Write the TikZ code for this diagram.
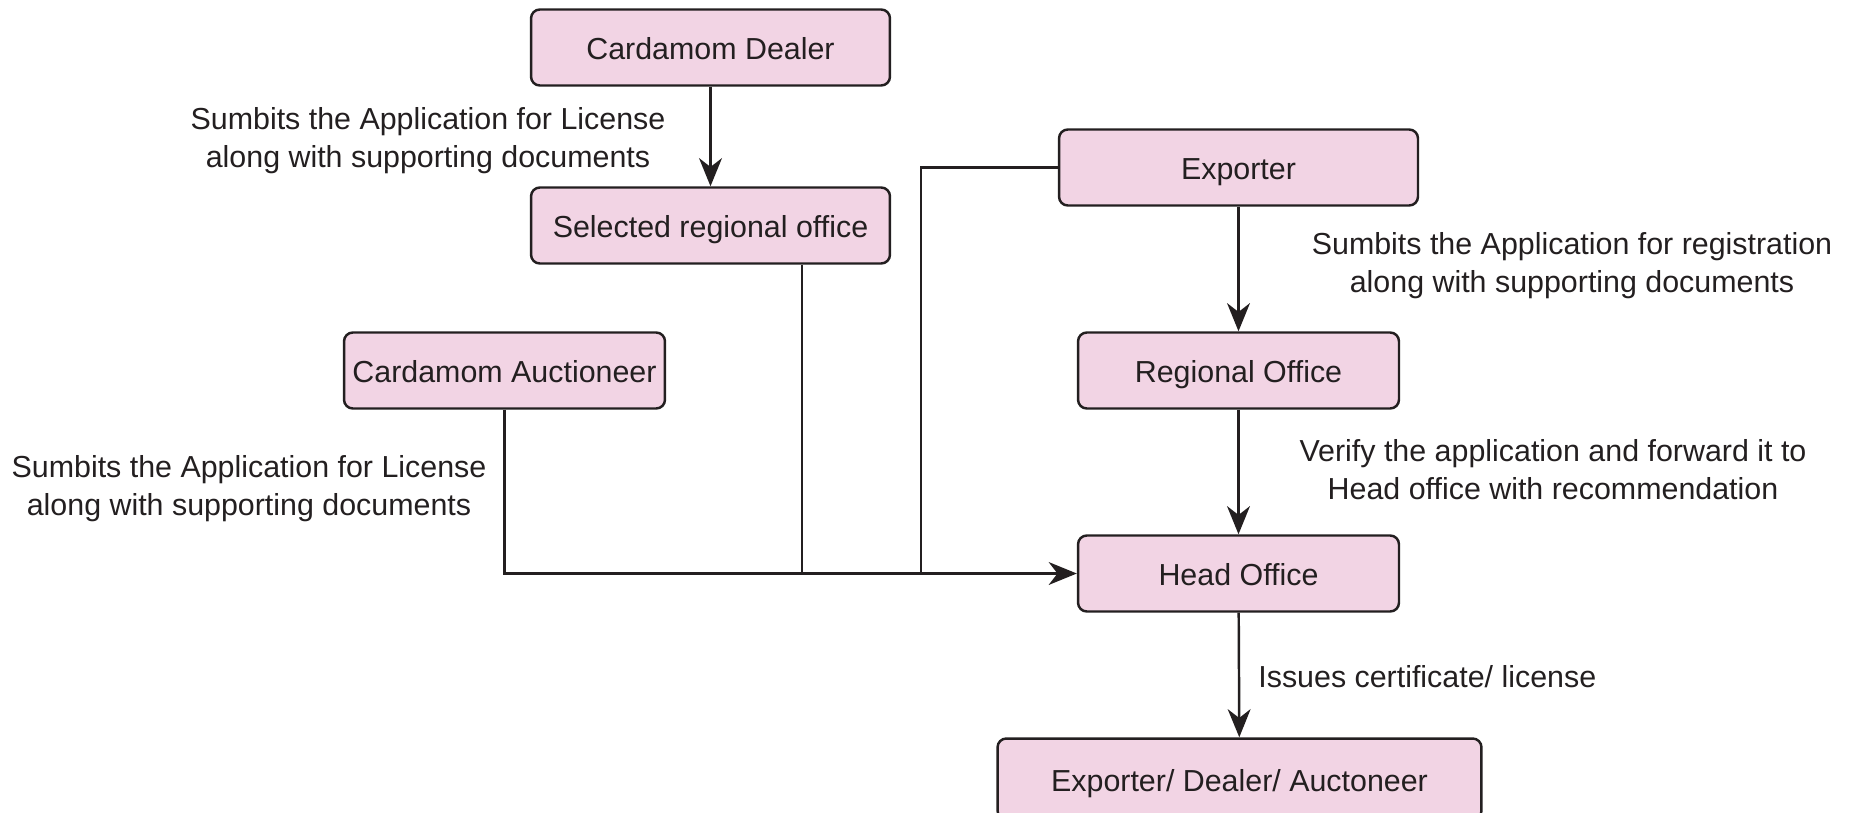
\documentclass[tikz,border=0pt]{standalone}
\usepackage{fontspec}
\setmainfont{Liberation Sans}
\usetikzlibrary{arrows.meta}
\definecolor{boxpink}{RGB}{242,212,228}
\definecolor{ink}{RGB}{35,31,32}

\begin{document}
\begin{tikzpicture}[x=0.02cm,y=-0.02cm,
    >={Stealth[length=16pt,width=13pt,inset=5pt]},
    box/.style={draw=ink,fill=boxpink,line width=1.4pt,rounded corners=5pt,
                minimum height=1.52cm,inner sep=0pt,text=ink,
                text height=13.8pt,text depth=0pt,
                font=\fontsize{17.3}{21}\selectfont},
    lbl/.style={align=center,inner sep=0pt,text=ink,
                font=\fontsize{17.3}{21.6}\selectfont},
    flow/.style={draw=ink,line width=1.4pt}]
  \useasboundingbox (0,0) rectangle (1856,812);

  \node[box,minimum width=7.18cm] (dealer)     at (710.5,47.5)   {Cardamom Dealer};
  \node[box,minimum width=7.18cm] (selected)   at (710.5,225.5)  {Selected regional office};
  \node[box,minimum width=6.42cm] (auctioneer) at (504.5,370.5)  {Cardamom Auctioneer};
  \node[box,minimum width=7.18cm] (exporter)   at (1238.5,167.5) {Exporter};
  \node[box,minimum width=6.42cm] (regional)   at (1238.5,370.5) {Regional Office};
  \node[box,minimum width=6.42cm] (head)       at (1238.5,573.5) {Head Office};
  \node[box,minimum width=9.68cm,minimum height=1.62cm] (issued) at (1239.5,779)
    {Exporter/ Dealer/ Auctoneer};

  \coordinate (jsel) at (802,573.5);
  \coordinate (jexp) at (921,573.5);

  % dealer side
  \draw[flow,->] (dealer) -- (selected);
  \node[lbl] (dealernote) at (428,141)
    {Sumbits the Application for License\\along with supporting documents};
  \draw[flow,->] (auctioneer) |- (head);
  \node[lbl] (auctnote) at (249,489)
    {Sumbits the Application for License\\along with supporting documents};
  \draw[flow] (jsel |- selected.south) -- (jsel);
  \draw[flow] (exporter) -| (jexp);

  % exporter side
  \draw[flow,->] (exporter) -- (regional);
  \node[lbl] (expnote) at (1572,265.5)
    {Sumbits the Application for registration\\along with supporting documents};
  \draw[flow,->] (regional) -- (head);
  \node[lbl] (regnote) at (1553,469.5)
    {Verify the application and forward it to\\Head office with recommendation};
  \draw[flow,->] (head) -- (issued);
  \node[lbl,anchor=west] (issuenote) at (1258,677) {Issues certificate/ license};
\end{tikzpicture}
\end{document}
